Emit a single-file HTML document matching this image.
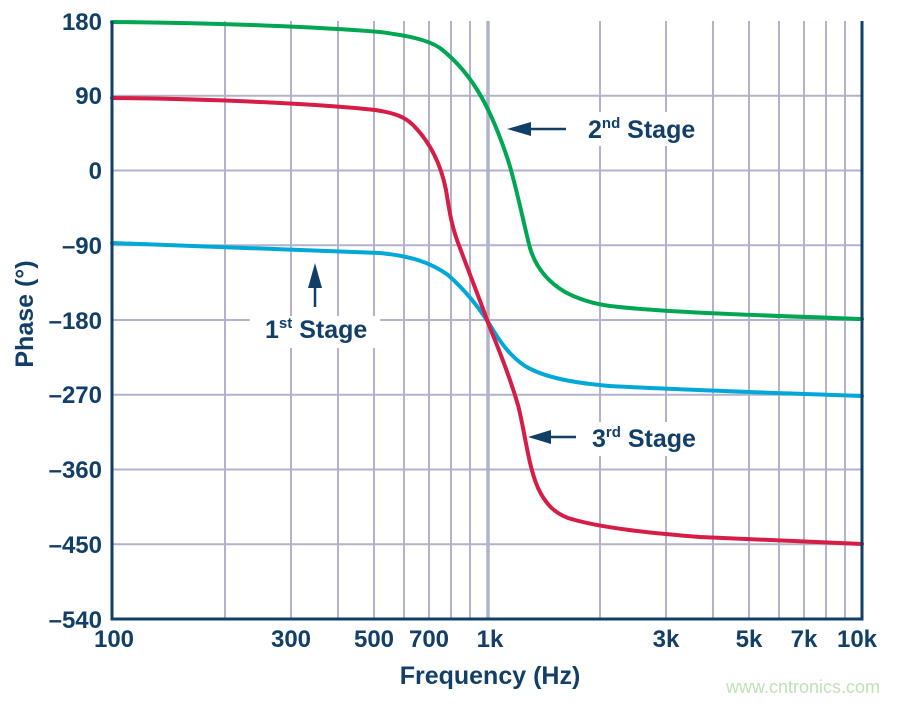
<!DOCTYPE html>
<html><head><meta charset="utf-8"><style>
body{margin:0;background:#fff;}
svg text{font-family:"Liberation Sans",Arial,sans-serif;font-weight:bold;fill:#123f68;}
</style></head><body>
<svg width="900" height="702" viewBox="0 0 900 702" xmlns="http://www.w3.org/2000/svg">
<g stroke="#b1b3cb" stroke-width="2">
<line x1="112" y1="95.7" x2="862" y2="95.7"/><line x1="112" y1="170.5" x2="862" y2="170.5"/>
<line x1="112" y1="245.2" x2="862" y2="245.2"/><line x1="112" y1="320" x2="862" y2="320"/>
<line x1="112" y1="394.7" x2="862" y2="394.7"/><line x1="112" y1="469.5" x2="862" y2="469.5"/>
<line x1="112" y1="544.2" x2="862" y2="544.2"/>
<line x1="225" y1="21" x2="225" y2="619"/><line x1="291" y1="21" x2="291" y2="619"/>
<line x1="338" y1="21" x2="338" y2="619"/><line x1="374" y1="21" x2="374" y2="619"/>
<line x1="404" y1="21" x2="404" y2="619"/><line x1="429" y1="21" x2="429" y2="619"/>
<line x1="451" y1="21" x2="451" y2="619"/><line x1="470" y1="21" x2="470" y2="619"/>
<line x1="488" y1="21" x2="488" y2="619" stroke-width="3.5"/>
<line x1="600" y1="21" x2="600" y2="619"/><line x1="666" y1="21" x2="666" y2="619"/>
<line x1="713" y1="21" x2="713" y2="619"/><line x1="749" y1="21" x2="749" y2="619"/>
<line x1="779" y1="21" x2="779" y2="619"/><line x1="804" y1="21" x2="804" y2="619"/>
<line x1="826" y1="21" x2="826" y2="619"/><line x1="845" y1="21" x2="845" y2="619"/>
</g>
<g fill="none" stroke-width="4" stroke-linejoin="round" stroke-linecap="round">
<path stroke="#00a651" d="M112,22 C220,23 320,27 380,32 C410,36 428,40 440,48 C458,62 472,80 482,98 C492,116 500,136 508,160 C516,185 524,225 530,248 C536,268 548,282 565,292 C580,300 595,304 610,306 C660,312 750,315 862,319"/>
<path stroke="#00a8d8" d="M112,243 C220,247 320,250 380,253 C410,256 430,262 448,275 C465,290 478,306 490,325 C500,342 510,356 525,366 C545,378 575,383 610,386 C680,390 780,393 862,396"/>
<path stroke="#d51d45" d="M112,98 C220,99 320,104 375,110 C395,113 405,117 413,125 C428,140 440,160 446,190 C450,215 452,228 460,248 C470,275 480,300 490,328 C500,352 510,378 518,405 C525,432 528,465 538,488 C546,505 555,513 568,518 C600,528 650,533 700,537 C780,540 830,543 862,544"/>
</g>
<path d="M112,21 V619 H862 V21" fill="none" stroke="#123f68" stroke-width="3"/>
<g font-size="24" text-anchor="end">
<text x="102" y="30">180</text><text x="102" y="104">90</text><text x="102" y="179">0</text>
<text x="102" y="254">–90</text><text x="102" y="329">–180</text><text x="102" y="403">–270</text>
<text x="102" y="478">–360</text><text x="102" y="553">–450</text><text x="102" y="628">–540</text>
</g>
<g font-size="24" text-anchor="middle">
<text x="114" y="647">100</text><text x="291" y="647">300</text><text x="374" y="647">500</text>
<text x="429" y="647">700</text><text x="490" y="647">1k</text><text x="666" y="647">3k</text>
<text x="749" y="647">5k</text><text x="804" y="647">7k</text><text x="857" y="647">10k</text>
</g>
<g font-size="25" text-anchor="middle">
<text x="490" y="684">Frequency (Hz)</text>
<text transform="translate(33,314) rotate(-90)">Phase (°)</text>
</g>
<g font-size="25">
<rect x="582" y="112" width="124" height="34" fill="#fff"/>
<text x="588" y="138">2<tspan font-size="15" dy="-10">nd</tspan><tspan dy="10"> Stage</tspan></text>
<rect x="586" y="422" width="120" height="34" fill="#fff"/>
<text x="592" y="447">3<tspan font-size="15" dy="-10">rd</tspan><tspan dy="10"> Stage</tspan></text>
<rect x="250" y="316" width="130" height="32" fill="#fff"/>
<text x="265" y="338">1<tspan font-size="15" dy="-10">st</tspan><tspan dy="10"> Stage</tspan></text>
</g>
<g fill="#123f68" stroke="#123f68" stroke-width="2.5">
<line x1="566" y1="129" x2="525" y2="129"/><polygon points="507,129 531,122 531,136" stroke="none"/>
<line x1="576" y1="437" x2="545" y2="437"/><polygon points="528,437 551,430 551,444" stroke="none"/>
<line x1="315" y1="307" x2="315" y2="282"/><polygon points="315,263 308,288 322,288" stroke="none"/>
</g>
<text x="803" y="693" font-size="18" text-anchor="middle" style="font-weight:normal;fill:#bfe3b8">www.cntronics.com</text>
</svg>
</body></html>
